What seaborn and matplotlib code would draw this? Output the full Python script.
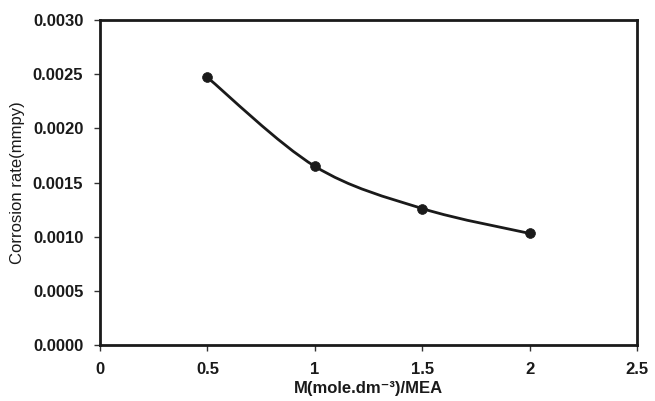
import numpy as np
import pandas as pd
import matplotlib
matplotlib.use("Agg")
import matplotlib.pyplot as plt
from matplotlib.path import Path
from matplotlib.patches import PathPatch
import seaborn as sns

conc = [0.5, 1.0, 1.5, 2.0]
rate = [0.00247, 0.00165, 0.00126, 0.00103]
xticks = [0, 0.5, 1, 1.5, 2, 2.5]
xtick_labels = ["0", "0.5", "1", "1.5", "2", "2.5"]
yticks = [0.0, 0.0005, 0.0010, 0.0015, 0.0020, 0.0025, 0.0030]
ytick_labels = ["0.0000", "0.0005", "0.0010", "0.0015", "0.0020", "0.0025", "0.0030"]

df = pd.DataFrame({"x": conc, "y": rate})

sns.set_theme(style="white")
plt.rcParams["font.family"] = ["Liberation Sans", "DejaVu Sans"]

fig = plt.figure(figsize=(6.55, 4.01), dpi=100)
ax = fig.add_axes([0.1527, 0.1397, 0.8198, 0.8103])

# smooth (Catmull-Rom) curve through the data points
xs = np.asarray(df["x"], float)
ys = np.asarray(df["y"], float)
verts = [(xs[0], ys[0])]
codes = [Path.MOVETO]
n = len(xs)
t = 1.0 / 6.0
for i in range(n - 1):
    p0 = (xs[max(i - 1, 0)], ys[max(i - 1, 0)])
    p1 = (xs[i], ys[i])
    p2 = (xs[i + 1], ys[i + 1])
    p3 = (xs[min(i + 2, n - 1)], ys[min(i + 2, n - 1)])
    c1 = (p1[0] + (p2[0] - p0[0]) * t, p1[1] + (p2[1] - p0[1]) * t)
    c2 = (p2[0] - (p3[0] - p1[0]) * t, p2[1] - (p3[1] - p1[1]) * t)
    verts += [c1, c2, p2]
    codes += [Path.CURVE4] * 3
ax.add_patch(PathPatch(Path(verts, codes), facecolor="none", edgecolor="#1a1a1a", lw=2.0, zorder=2))

sns.scatterplot(data=df, x="x", y="y", ax=ax, color="#1a1a1a", s=50, edgecolor="#1a1a1a", linewidth=0.5, zorder=3)

ax.set_xlim(0, 2.5)
ax.set_ylim(0, 0.003)
ax.set_xticks(xticks)
ax.set_xticklabels(xtick_labels, fontsize=12, fontweight="bold", color="#1a1a1a")
ax.set_yticks(yticks)
ax.set_yticklabels(ytick_labels, fontsize=12, fontweight="bold", color="#1a1a1a")
ax.tick_params(axis="both", which="major", direction="out", length=4, width=1, color="#333333",
               bottom=True, left=True, top=False, right=False, pad=8)
ax.set_xlabel("M(mole.dm\u207b\u00b3)/MEA", fontsize=12, fontweight="bold", color="#1a1a1a", labelpad=3)
ax.set_ylabel("Corrosion rate(mmpy)", fontsize=12, color="#1a1a1a", labelpad=6)
for s in ax.spines.values():
    s.set_visible(True)
    s.set_linewidth(2.0)
    s.set_color("#1a1a1a")

fig.savefig("out.png", dpi=100, facecolor="white")
